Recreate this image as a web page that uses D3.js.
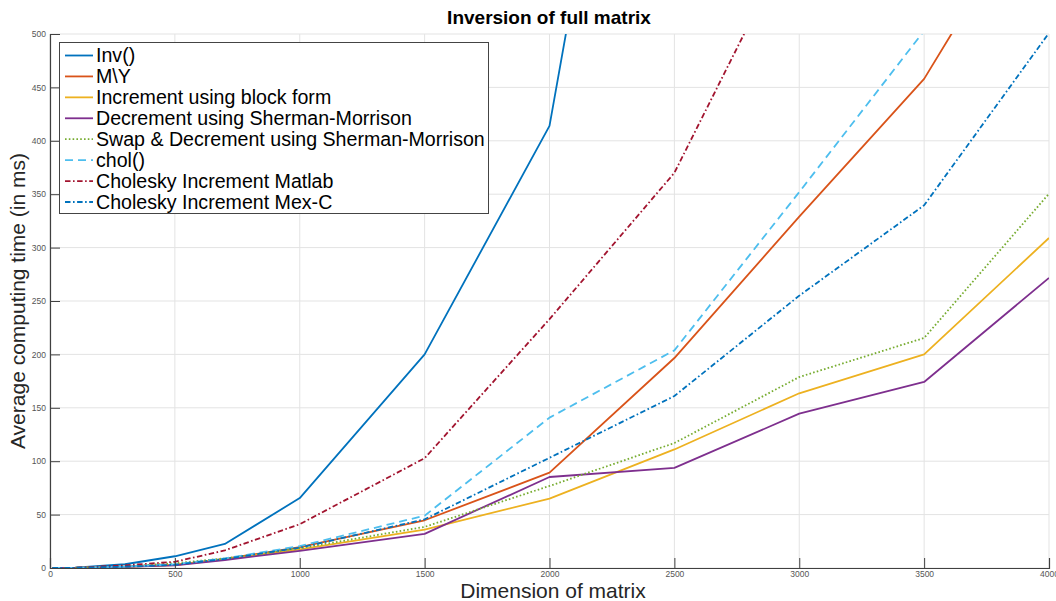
<!DOCTYPE html>
<html>
<head>
<meta charset="utf-8">
<script src="https://cdn.jsdelivr.net/npm/d3@7"></script>
<style>
  html, body { margin: 0; padding: 0; background: #fff; }
  svg { display: block; font-family: "Liberation Sans", Arial, Helvetica, sans-serif; }
</style>
</head>
<body>
<svg id="chart" width="1056" height="601"></svg>
<script>
// ---- data ----
const dims = [10, 100, 300, 500, 700, 1000, 1500, 2000, 2500, 3000, 3500, 4000];
const seriesNames = [
  "Inv()",
  "M\\Y",
  "Increment using block form",
  "Decrement using Sherman-Morrison",
  "Swap & Decrement using Sherman-Morrison",
  "chol()",
  "Cholesky Increment Matlab",
  "Cholesky Increment Mex-C"
];
const invTimes      = [0, 0.3, 3.5, 11, 22.5, 65.5, 200, 414, 1070, 1900, 2900, 4300];
const mldivTimes    = [0, 0.2, 1.2, 3, 8.5, 19.5, 44.7, 89.3, 196.6, 329, 458, 650];
const blockIncTimes = [0, 0.2, 1.0, 2.8, 8, 17.5, 36, 65, 111, 163.6, 200, 309];
const smDecTimes    = [0, 0.2, 1.0, 2.5, 7.5, 16, 32, 85.2, 93.7, 144.5, 174.2, 271.6];
const swapDecTimes  = [0, 0.2, 1.5, 4.5, 9, 18.5, 38.5, 76.8, 117, 178.8, 215.4, 350.5];
const cholTimes     = [0, 0.2, 1.3, 3.5, 9, 20.5, 49, 140.8, 203.8, 352, 503, 750];
const cholIncMatlab = [0, 0.2, 2.5, 5.8, 16.5, 41, 102.8, 233, 370, 603, 900, 1300];
const cholIncMexC   = [0, 0.2, 1.2, 3, 8.5, 19, 45.6, 103.2, 161, 255, 339.6, 501];
const xTicks = [0, 500, 1000, 1500, 2000, 2500, 3000, 3500, 4000];
const yTicks = [0, 50, 100, 150, 200, 250, 300, 350, 400, 450, 500];

const seriesValues = [invTimes, mldivTimes, blockIncTimes, smDecTimes, swapDecTimes, cholTimes, cholIncMatlab, cholIncMexC];
const colors = ["#0072BD", "#D95319", "#EDB120", "#7E2F8E", "#77AC30", "#4DBEEE", "#A2142F", "#0072BD"];
const dashes = [null, null, null, null, "1.6,2.2", "8,5", "5.5,2.5,1.6,2.5", "5.5,2.5,1.6,2.5"];

// ---- layout ----
const svg = d3.select("#chart");
const plotL = 50, plotR = 1049, plotT = 34, plotB = 568;

const x = d3.scaleLinear().domain([0, 4000]).range([plotL, plotR]);
const y = d3.scaleLinear().domain([0, 500]).range([plotB, plotT]);

// grid
const grid = svg.append("g");
grid.selectAll("line.vx").data(xTicks).enter().append("line")
  .attr("x1", d => x(d)).attr("x2", d => x(d))
  .attr("y1", plotT).attr("y2", plotB)
  .attr("stroke", "#e3e3e3").attr("stroke-width", 1);
grid.selectAll("line.hy").data(yTicks).enter().append("line")
  .attr("x1", plotL).attr("x2", plotR)
  .attr("y1", d => y(d)).attr("y2", d => y(d))
  .attr("stroke", "#e3e3e3").attr("stroke-width", 1);

// clip
svg.append("clipPath").attr("id", "plotclip").append("rect")
  .attr("x", plotL).attr("y", plotT).attr("width", plotR - plotL).attr("height", plotB - plotT);

const line = d3.line().x((d, i) => x(dims[i])).y(d => y(d));
const lines = svg.append("g").attr("clip-path", "url(#plotclip)");
seriesValues.forEach((vals, k) => {
  lines.append("path")
    .datum(vals)
    .attr("d", line)
    .attr("fill", "none")
    .attr("stroke", colors[k])
    .attr("stroke-width", 1.8)
    .attr("stroke-linejoin", "round")
    .attr("stroke-dasharray", dashes[k]);
});

// axes
const xAxis = d3.axisBottom(x).tickValues(xTicks).tickSize(-10).tickPadding(3).tickFormat(d3.format("d"));
const yAxis = d3.axisLeft(y).tickValues(yTicks).tickSize(-10).tickPadding(4).tickFormat(d3.format("d"));
const gx = svg.append("g").attr("transform", `translate(0,${plotB})`).call(xAxis);
const gy = svg.append("g").attr("transform", `translate(${plotL},0)`).call(yAxis);
[gx, gy].forEach(g => {
  g.select(".domain").attr("stroke", "#404040").attr("stroke-width", 1.2);
  g.selectAll(".tick line").attr("stroke", "#404040").attr("stroke-width", 1);
  g.selectAll(".tick text").attr("fill", "#555").style("font-size", "8.5px")
    .style("font-family", "'Liberation Sans', Arial, sans-serif");
});
gx.selectAll(".tick text").attr("dy", "0.72em");

// title & labels
svg.append("text").attr("x", 549).attr("y", 24).attr("text-anchor", "middle")
  .style("font-size", "19px").style("font-weight", "bold").attr("fill", "#000")
  .text("Inversion of full matrix");
svg.append("text").attr("x", 553).attr("y", 598).attr("text-anchor", "middle")
  .style("font-size", "21px").attr("fill", "#262626")
  .text("Dimension of matrix");
svg.append("text").attr("transform", `translate(25,${(plotT + plotB) / 2}) rotate(-90)`)
  .attr("text-anchor", "middle")
  .style("font-size", "21px").attr("fill", "#262626")
  .text("Average computing time (in ms)");

// legend
const lg = svg.append("g");
lg.append("rect").attr("x", 59.5).attr("y", 42.5).attr("width", 429).attr("height", 171)
  .attr("fill", "#fff").attr("stroke", "#444").attr("stroke-width", 1);
const rowY = d3.scaleLinear().domain([0, 7]).range([55.5, 202]);
seriesNames.forEach((name, k) => {
  const yy = rowY(k);
  lg.append("line").attr("x1", 65).attr("x2", 93).attr("y1", yy).attr("y2", yy)
    .attr("stroke", colors[k]).attr("stroke-width", 1.8)
    .attr("stroke-dasharray", dashes[k]);
  lg.append("text").attr("x", 96).attr("y", yy).attr("dy", "0.35em")
    .style("font-size", "19.6px").attr("fill", "#000").text(name);
});
</script>
</body>
</html>
